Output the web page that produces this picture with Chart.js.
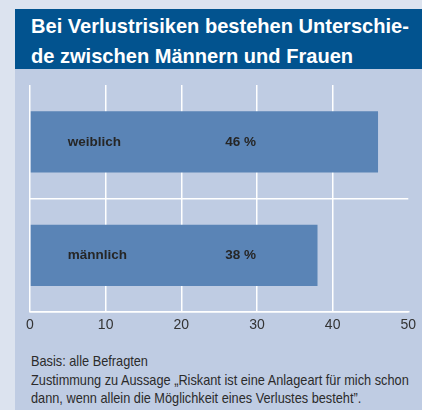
<!DOCTYPE html>
<html>
<head>
<meta charset="utf-8">
<script src="https://cdn.jsdelivr.net/npm/chart.js@4/dist/chart.umd.min.js"></script>
<style>
  html, body { margin: 0; padding: 0; }
  body { width: 422px; height: 410px; background: #dce3ef; position: relative; overflow: hidden; }
  #panel { position: absolute; left: 15px; top: 9px; width: 407px; height: 401px; background: #bfcce3; }
  #titleBar { position: absolute; left: 0; top: 0; width: 407px; height: 60px; background: #02538f; }
  #title { position: absolute; left: 16px; top: 2px; color: #fff; white-space: nowrap;
           font: bold 21px "Liberation Sans", Arial, sans-serif; line-height: 30px;
           transform: scaleX(0.955); transform-origin: 0 0; }
  #chartBox { position: absolute; left: 0; top: 60px; width: 407px; height: 271px; }
  #notes { position: absolute; left: 16px; top: 343px; color: #2b2b2b; transform: scaleX(0.85); transform-origin: 0 0;
           font: 15px "Liberation Sans", Arial, sans-serif; line-height: 18.5px; white-space: nowrap; }
</style>
</head>
<body>
<div id="panel">
  <div id="titleBar"><div id="title">Bei Verlustrisiken bestehen Unterschie-<br>de zwischen Männern und Frauen</div></div>
  <div id="chartBox"><canvas id="chart"></canvas></div>
  <div id="notes">Basis: alle Befragten<br>Zustimmung zu Aussage „Riskant ist eine Anlageart für mich schon<br>dann, wenn allein die Möglichkeit eines Verlustes besteht”.</div>
</div>
<script>
// Daten
const categories = ['weiblich', 'männlich'];
const shares = [46, 38];
const axisMin = 0;
const axisMax = 50;
const axisStep = 10;

const barColor = '#5a84b6';
const gridColor = '#ffffff';
const labelFont = '"Liberation Sans", Arial, sans-serif';

// Kategorie und Prozentwert in die Balken schreiben
const barLabels = {
    id: 'barLabels',
    afterDatasetsDraw(chart) {
        const ctx = chart.ctx;
        const meta = chart.getDatasetMeta(0);
        const xs = chart.scales.x;
        const xName = xs.getPixelForValue(5);
        const xValue = xs.getPixelForValue(25.8);
        ctx.save();
        ctx.font = 'bold 13.5px ' + labelFont;
        ctx.fillStyle = '#262626';
        ctx.textAlign = 'left';
        ctx.textBaseline = 'middle';
        meta.data.forEach(function (bar, i) {
            ctx.fillText(categories[i], xName, bar.y);
            ctx.fillText(shares[i] + ' %', xValue, bar.y);
        });
        ctx.restore();
    }
};

const ctx = document.getElementById('chart').getContext('2d');
const chart = new Chart(ctx, {
    type: 'bar',
    data: {
        labels: categories,
        datasets: [{
            data: shares,
            backgroundColor: barColor,
            borderWidth: 0,
            categoryPercentage: 1,
            barPercentage: 0.54
        }]
    },
    options: {
        indexAxis: 'y',
        responsive: true,
        maintainAspectRatio: false,
        animation: false,
        layout: { padding: { left: 15, right: 13.7, top: 16, bottom: 1 } },
        plugins: {
            legend: { display: false },
            tooltip: { enabled: false }
        },
        scales: {
            x: {
                min: axisMin,
                max: axisMax,
                ticks: {
                    stepSize: axisStep,
                    color: '#333333',
                    padding: 5,
                    font: { family: labelFont, size: 14 }
                },
                grid: {
                    drawTicks: false,
                    lineWidth: 1.5,
                    // keine Linie bei 50
                    color: (c) => (c.tick && c.tick.value === axisMax) ? 'rgba(0,0,0,0)' : gridColor
                },
                border: { display: true, color: gridColor, width: 1.5 }
            },
            y: {
                ticks: { display: false },
                grid: {
                    drawTicks: false,
                    lineWidth: 1.5,
                    color: (c) => c.index === 0 ? 'rgba(0,0,0,0)' : gridColor
                },
                border: { display: false }
            }
        }
    },
    plugins: [barLabels]
});
</script>
</body>
</html>
